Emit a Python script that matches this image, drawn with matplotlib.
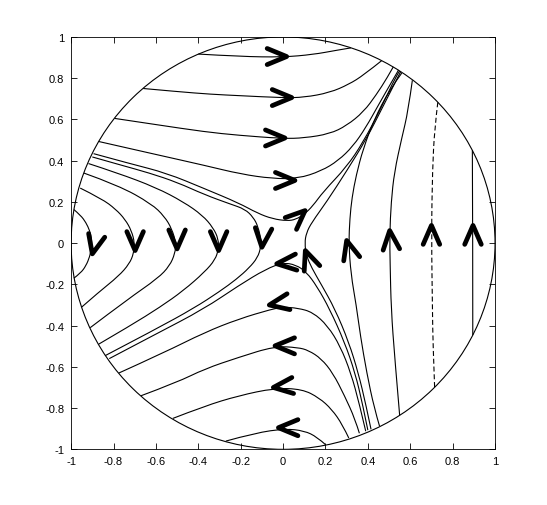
import matplotlib
matplotlib.use('Agg')
import numpy as np
import matplotlib.pyplot as plt
from matplotlib.patches import Circle, PathPatch
from matplotlib.path import Path

plt.rcParams['font.family'] = ['Liberation Sans', 'DejaVu Sans']
plt.rcParams['axes.unicode_minus'] = False

# streamlines, (x, y) points
top_09 = [(-0.40, 0.917), (-0.2, 0.905), (0.0, 0.902), (0.143, 0.915), (0.25, 0.935), (0.32, 0.947)]
top_07 = [(-0.66, 0.75), (-0.5, 0.735), (-0.34, 0.722), (-0.2, 0.715), (0.0, 0.705), (0.1, 0.707),
          (0.22, 0.73), (0.31, 0.77), (0.38, 0.815), (0.465, 0.885)]
top_05 = [(-0.795, 0.605), (-0.6, 0.575), (-0.37, 0.54), (-0.21, 0.523), (0.0, 0.507), (0.1, 0.51),
          (0.22, 0.53), (0.30, 0.57), (0.38, 0.637), (0.44, 0.72), (0.49, 0.80), (0.52, 0.855)]
top_03 = [(-0.87, 0.493), (-0.6, 0.43), (-0.37, 0.377), (-0.2, 0.335), (-0.05, 0.313), (0.07, 0.313),
          (0.18, 0.35), (0.26, 0.40), (0.33, 0.47), (0.39, 0.56), (0.45, 0.67), (0.50, 0.76), (0.545, 0.84)]
top_01 = [(-0.894, 0.434), (-0.72, 0.385), (-0.55, 0.34), (-0.37, 0.264), (-0.21, 0.195), (-0.12, 0.145),
          (-0.05, 0.118), (0.02, 0.108), (0.06, 0.115), (0.10, 0.14), (0.14, 0.18), (0.19, 0.25),
          (0.30, 0.37), (0.378, 0.49), (0.46, 0.65), (0.535, 0.815), (0.55, 0.835)]

left_09 = [(-0.987, 0.163), (-0.955, 0.135), (-0.93, 0.10), (-0.912, 0.06), (-0.903, 0.02), (-0.903, -0.02),
           (-0.912, -0.065), (-0.93, -0.11), (-0.955, -0.145), (-0.987, -0.17)]
left_07 = [(-0.957, 0.267), (-0.855, 0.215), (-0.79, 0.165), (-0.745, 0.115), (-0.715, 0.06), (-0.70, 0.0),
           (-0.705, -0.05), (-0.725, -0.10), (-0.776, -0.16), (-0.87, -0.238), (-0.95, -0.31)]
left_05 = [(-0.94, 0.34), (-0.776, 0.28), (-0.62, 0.19), (-0.56, 0.13), (-0.525, 0.07), (-0.505, 0.0),
           (-0.51, -0.05), (-0.535, -0.11), (-0.59, -0.17), (-0.73, -0.27), (-0.91, -0.41)]
left_03 = [(-0.918, 0.386), (-0.78, 0.34), (-0.6, 0.27), (-0.47, 0.2), (-0.38, 0.135), (-0.33, 0.075),
           (-0.305, 0.02), (-0.305, -0.03), (-0.32, -0.08), (-0.37, -0.14), (-0.47, -0.23), (-0.58, -0.31),
           (-0.72, -0.40), (-0.87, -0.49)]
left_01 = [(-0.90, 0.418), (-0.77, 0.38), (-0.63, 0.34), (-0.5, 0.295), (-0.37, 0.235), (-0.25, 0.19),
           (-0.18, 0.165), (-0.14, 0.125), (-0.118, 0.08), (-0.105, 0.02), (-0.105, -0.02), (-0.12, -0.07),
           (-0.16, -0.12), (-0.22, -0.175), (-0.3, -0.235), (-0.42, -0.315), (-0.6, -0.417), (-0.84, -0.546)]

bot_01 = [(0.40, -0.907), (0.375, -0.78), (0.34, -0.63), (0.29, -0.48), (0.22, -0.32), (0.16, -0.21),
          (0.11, -0.14), (0.06, -0.105), (0.0, -0.095), (-0.08, -0.125), (-0.21, -0.206), (-0.375, -0.32),
          (-0.6, -0.441), (-0.82, -0.56)]
bot_03 = [(0.39, -0.912), (0.36, -0.78), (0.32, -0.63), (0.27, -0.5), (0.21, -0.40), (0.14, -0.335),
          (0.07, -0.315), (0.0, -0.31), (-0.053, -0.32), (-0.21, -0.368), (-0.37, -0.433), (-0.56, -0.53),
          (-0.775, -0.63)]
bot_05 = [(0.36, -0.922), (0.34, -0.854), (0.29, -0.74), (0.235, -0.63), (0.18, -0.56), (0.12, -0.52),
          (0.07, -0.506), (-0.04, -0.50), (-0.21, -0.554), (-0.37, -0.61), (-0.5, -0.675), (-0.67, -0.74)]
bot_07 = [(0.31, -0.945), (0.28, -0.88), (0.23, -0.806), (0.17, -0.75), (0.09, -0.708), (-0.04, -0.703),
          (-0.21, -0.74), (-0.37, -0.79), (-0.52, -0.85)]
bot_09 = [(0.20, -0.977), (0.16, -0.94), (0.10, -0.91), (0.01, -0.90), (-0.13, -0.92), (-0.27, -0.96)]

right_01 = [(0.415, -0.903), (0.39, -0.78), (0.355, -0.63), (0.31, -0.48), (0.245, -0.32), (0.18, -0.2),
            (0.135, -0.12), (0.11, -0.06), (0.102, 0.0), (0.11, 0.05), (0.135, 0.10), (0.205, 0.20),
            (0.30, 0.35), (0.394, 0.507), (0.47, 0.66), (0.555, 0.832)]
right_03 = [(0.455, -0.887), (0.43, -0.80), (0.395, -0.63), (0.365, -0.45), (0.345, -0.30), (0.32, -0.15),
            (0.31, 0.0), (0.315, 0.12), (0.325, 0.22), (0.345, 0.33), (0.378, 0.458), (0.43, 0.60),
            (0.50, 0.74), (0.56, 0.825)]
right_05 = [(0.61, 0.79), (0.59, 0.64), (0.56, 0.51), (0.525, 0.345), (0.51, 0.2), (0.503, 0.04),
            (0.505, -0.1), (0.51, -0.32), (0.527, -0.56), (0.55, -0.835)]
right_07 = [(0.73, 0.683), (0.715, 0.556), (0.705, 0.36), (0.70, 0.04), (0.705, -0.335), (0.707, -0.48),
            (0.715, -0.699)]
right_09 = [(0.893, 0.45), (0.895, 0.0), (0.895, -0.446)]

solid_curves = [top_09, top_07, top_05, top_03, top_01,
                left_09, left_07, left_05, left_03, left_01,
                bot_01, bot_03, bot_05, bot_07, bot_09,
                right_01, right_03, right_05, right_09]
dashed_curves = [right_07]

# arrow tips (x, y) and heading in degrees
arrow_x = [0.017, 0.041, 0.009, 0.056, 0.104,
           -0.90, -0.698, -0.50, -0.304, -0.10,
           -0.03, -0.065, -0.038, -0.046, -0.022,
           0.105, 0.30, 0.503, 0.70, 0.896]
arrow_y = [0.905, 0.706, 0.51, 0.304, 0.158,
           -0.052, -0.036, -0.028, -0.036, -0.02,
           -0.10, -0.30, -0.498, -0.70, -0.895,
           -0.036, 0.013, 0.061, 0.086, 0.086]
arrow_dir = [0, 0, 0, 0, 43,
             -103, -90, -90, -90, -95,
             185, 190, 180, 186, 180,
             110, 105, 95, 90, 90]

ticks = [-1, -0.8, -0.6, -0.4, -0.2, 0, 0.2, 0.4, 0.6, 0.8, 1]
tick_labels = ['-1', '-0.8', '-0.6', '-0.4', '-0.2', '0', '0.2', '0.4', '0.6', '0.8', '1']


def smooth_path(pts):
    # quadratic bezier pieces with the read points as control points
    p = np.array(pts, dtype=float)
    if len(p) < 3:
        return Path(p)
    verts = [p[0]]
    codes = [Path.MOVETO]
    for i in range(1, len(p) - 1):
        end = p[i + 1] if i == len(p) - 2 else (p[i] + p[i + 1]) / 2
        verts += [p[i], end]
        codes += [Path.CURVE3, Path.CURVE3]
    return Path(verts, codes)


fig = plt.figure(figsize=(5.47, 5.06), dpi=100)
ax = fig.add_axes([0.13, 0.11, 0.775, 0.815])

for c in solid_curves:
    ax.add_patch(PathPatch(smooth_path(c), fill=False, ec='k', lw=0.8))
for c in dashed_curves:
    ax.add_patch(PathPatch(smooth_path(c), fill=False, ec='k', lw=0.8, linestyle=(0, (4.5, 2.5))))

ax.add_patch(Circle((0, 0), 1, fill=False, ec='k', lw=0.8))

# chevron heads
L = 0.1
half = np.radians(23)
for x, y, a in zip(arrow_x, arrow_y, arrow_dir):
    th = np.radians(a) + np.pi
    px = [x + L * np.cos(th + half), x, x + L * np.cos(th - half)]
    py = [y + L * np.sin(th + half), y, y + L * np.sin(th - half)]
    ax.plot(px, py, color='k', lw=3.4, solid_capstyle='round', solid_joinstyle='round')

ax.set_xlim(-1, 1)
ax.set_ylim(-1, 1)
ax.set_xticks(ticks)
ax.set_xticklabels(tick_labels)
ax.set_yticks(ticks)
ax.set_yticklabels(tick_labels)
ax.tick_params(direction='in', top=True, right=True, length=4, width=0.6, labelsize=8, pad=5)
for s in ax.spines.values():
    s.set_linewidth(0.6)

fig.savefig('out.png', dpi=100)
